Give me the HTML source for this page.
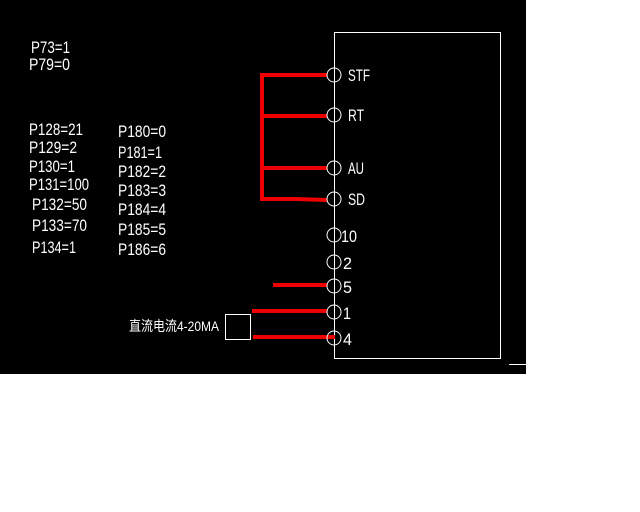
<!DOCTYPE html>
<html><head><style>html,body{margin:0;padding:0;background:#fff}svg{display:block}</style></head><body>
<svg width="640" height="512" xmlns="http://www.w3.org/2000/svg">
<rect x="0" y="0" width="526" height="374" fill="#000"/>
<rect x="334.5" y="32.5" width="166" height="326" fill="none" stroke="#fff" stroke-width="1"/>
<line x1="509" y1="364.5" x2="526" y2="364.5" stroke="#fff" stroke-width="1"/>
<g stroke="#e00" stroke-width="4" fill="none">
<polyline points="327,75 262,75 262,199 296,199 327,200"/>
<line x1="262" y1="116" x2="327" y2="116"/>
<line x1="262" y1="168" x2="327" y2="168"/>
<line x1="273" y1="285" x2="327" y2="285"/>
<line x1="252" y1="311" x2="327" y2="311"/>
<line x1="253" y1="337" x2="335" y2="337"/>
</g>
<g stroke="#fff" stroke-width="1" fill="none">
<circle cx="334" cy="75" r="7"/><circle cx="334" cy="115" r="7"/><circle cx="334" cy="168" r="7"/><circle cx="334" cy="199" r="7"/><circle cx="334" cy="235" r="7"/><circle cx="334" cy="262" r="7"/><circle cx="334" cy="286" r="7"/><circle cx="334" cy="312" r="7"/><circle cx="334" cy="338" r="7"/>
<rect x="225.5" y="314.5" width="25" height="25"/>
</g>
<g fill="#fff" font-family="Liberation Sans, sans-serif" font-size="17" lengthAdjust="spacingAndGlyphs">
<text x="348" y="81" textLength="22" lengthAdjust="spacingAndGlyphs">STF</text>
<text x="348" y="121" textLength="16" lengthAdjust="spacingAndGlyphs">RT</text>
<text x="348" y="174" textLength="16" lengthAdjust="spacingAndGlyphs">AU</text>
<text x="348" y="205" textLength="17" lengthAdjust="spacingAndGlyphs">SD</text>
<text x="341" y="242" textLength="16" lengthAdjust="spacingAndGlyphs">10</text>
<text x="343" y="269" textLength="9" lengthAdjust="spacingAndGlyphs">2</text>
<text x="343" y="293" textLength="9" lengthAdjust="spacingAndGlyphs">5</text>
<text x="343" y="319" textLength="8" lengthAdjust="spacingAndGlyphs">1</text>
<text x="343" y="345" textLength="9" lengthAdjust="spacingAndGlyphs">4</text>
<text x="31" y="53" textLength="39" lengthAdjust="spacingAndGlyphs">P73=1</text>
<text x="29" y="70" textLength="41" lengthAdjust="spacingAndGlyphs">P79=0</text>
<text x="29" y="135" textLength="54" lengthAdjust="spacingAndGlyphs">P128=21</text>
<text x="29" y="153" textLength="48" lengthAdjust="spacingAndGlyphs">P129=2</text>
<text x="29" y="172" textLength="46" lengthAdjust="spacingAndGlyphs">P130=1</text>
<text x="29" y="190" textLength="60" lengthAdjust="spacingAndGlyphs">P131=100</text>
<text x="32" y="210" textLength="55" lengthAdjust="spacingAndGlyphs">P132=50</text>
<text x="32" y="231" textLength="55" lengthAdjust="spacingAndGlyphs">P133=70</text>
<text x="32" y="253" textLength="44" lengthAdjust="spacingAndGlyphs">P134=1</text>
<text x="118" y="137" textLength="48" lengthAdjust="spacingAndGlyphs">P180=0</text>
<text x="118" y="158" textLength="44" lengthAdjust="spacingAndGlyphs">P181=1</text>
<text x="118" y="177" textLength="48" lengthAdjust="spacingAndGlyphs">P182=2</text>
<text x="118" y="196" textLength="48" lengthAdjust="spacingAndGlyphs">P183=3</text>
<text x="118" y="215" textLength="48" lengthAdjust="spacingAndGlyphs">P184=4</text>
<text x="118" y="235" textLength="48" lengthAdjust="spacingAndGlyphs">P185=5</text>
<text x="118" y="255" textLength="48" lengthAdjust="spacingAndGlyphs">P186=6</text>
<text x="129" y="331" font-size="14" font-family="Liberation Sans, Noto Sans CJK SC, sans-serif" textLength="90" lengthAdjust="spacingAndGlyphs">直流电流4-20MA</text>
</g>
</svg>
</body></html>
